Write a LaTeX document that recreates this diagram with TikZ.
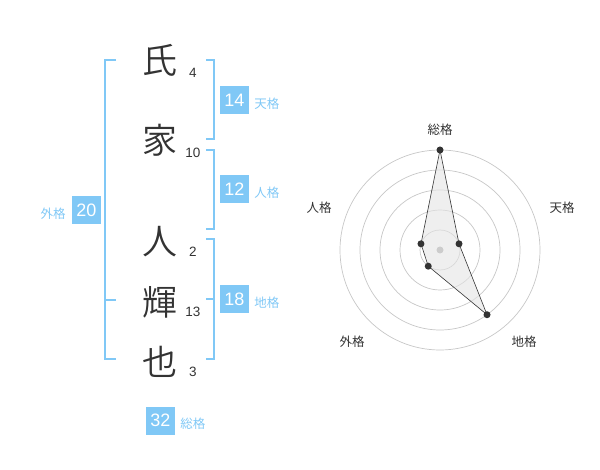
\documentclass[tikz,border=0pt]{standalone}
\usepackage{fontspec}
\setmainfont{Liberation Sans}
\newfontfamily\jp{Noto Sans CJK JP}
\IfFontExistsTF{Noto Sans CJK JP DemiLight}
	{\newfontfamily\jplight{Noto Sans CJK JP DemiLight}}
	{\newfontfamily\jplight{Noto Sans CJK JP}}
\definecolor{kblue}{HTML}{80C8F6}
\definecolor{kdark}{HTML}{333333}
\begin{document}
\begin{tikzpicture}[x=1pt, y=-1pt,
	kanji/.style={font=\jplight\fontsize{35}{35}\selectfont, text=kdark, inner sep=0pt},
	strokes/.style={font=\fontsize{13.5}{14}\selectfont, text=kdark, inner sep=0pt, anchor=base},
	score/.style={fill=kblue, text=white, minimum width=29pt, minimum height=28pt, inner sep=0pt, font=\fontsize{18}{18}\selectfont},
	kaku/.style={font=\jp\fontsize{12.5}{13}\selectfont, text=kblue, inner sep=0pt},
	bracket/.style={draw=kblue, line width=2pt},
	ring/.style={draw=black!22, line width=0.7pt},
	axislabel/.style={font=\jp\fontsize{12.5}{13}\selectfont, text=kdark, inner sep=0pt},
	vdot/.style={circle, fill=kdark, inner sep=0pt, minimum size=7pt}]
		\useasboundingbox (0,0) rectangle (600,470);
		
		% Name characters
		\node[kanji] (c1) at (160,60) {氏};
		\node[kanji] (c2) at (160,140) {家};
		\node[kanji] (c3) at (160,242) {人};
		\node[kanji] (c4) at (160,302) {輝};
		\node[kanji] (c5) at (160,362) {也};
		
		% Stroke counts
		\node[strokes] (n1) at (193,78) {4};
		\node[strokes] (n2) at (193,158) {10};
		\node[strokes] (n3) at (193,257) {2};
		\node[strokes] (n4) at (193,317) {13};
		\node[strokes] (n5) at (193,377) {3};
		
		% Brackets
		\draw[bracket] (116,60) -| (105,359) -- (116,359);
		\draw[bracket] (105,300) -- (116,300);
		\draw[bracket] (206,60) -| (214,139) -- (206,139);
		\draw[bracket] (206,150) -| (214,229) -- (206,229);
		\draw[bracket] (206,239) -| (214,359) -- (206,359);
		\draw[bracket] (206,299) -- (214,299);
		
		% Scores
		\node[score] (s1) at (234.5,100.5) {14};
		\node[score] (s2) at (234.5,189.5) {12};
		\node[score] (s3) at (234.5,299) {18};
		\node[score] (s4) at (86.5,210) {20};
		\node[score] (s5) at (160.5,420.5) {32};
		\node[kaku, anchor=west] (k1) at ([xshift=5pt,yshift=-3.5pt]s1.east) {天格};
		\node[kaku, anchor=west] (k2) at ([xshift=5pt,yshift=-3.5pt]s2.east) {人格};
		\node[kaku, anchor=west] (k3) at ([xshift=5pt,yshift=-3.5pt]s3.east) {地格};
		\node[kaku, anchor=east] (k4) at ([xshift=-6pt,yshift=-3.5pt]s4.west) {外格};
		\node[kaku, anchor=west] (k5) at ([xshift=5pt,yshift=-3pt]s5.east) {総格};
		
		% Radar chart
		\coordinate (o) at (440,250);
		\foreach \r in {20,40,...,100}
			\draw[ring] (o) circle (\r pt);
		\path (o) ++(-90:100) coordinate (p1);
		\path (o) ++(-18:20) coordinate (p2);
		\path (o) ++(54:80) coordinate (p3);
		\path (o) ++(126:20) coordinate (p4);
		\path (o) ++(198:20) coordinate (p5);
		\filldraw[fill=black!10, fill opacity=0.6, draw=kdark, line width=0.6pt]
			(p1) -- (p2) -- (p3) -- (p4) -- (p5) -- cycle;
		\node[circle, fill=black!20, inner sep=0pt, minimum size=7pt] (c) at (o) {};
		\foreach \i in {1,...,5}
			\node[vdot] (d\i) at (p\i) {};
		
		\node[axislabel] (a1) at (440,130) {総格};
		\node[axislabel] (a2) at (562,208) {天格};
		\node[axislabel] (a3) at (524,342) {地格};
		\node[axislabel] (a4) at (352,342) {外格};
		\node[axislabel] (a5) at (319,208) {人格};
		
	\end{tikzpicture}
\end{document}
